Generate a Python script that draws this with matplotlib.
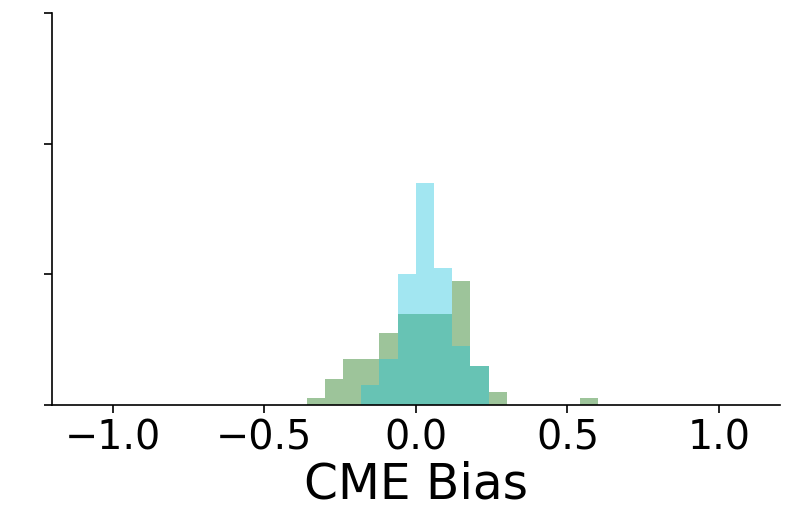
import numpy as np
import matplotlib
matplotlib.use("Agg")
import matplotlib.pyplot as plt

# Histogram bins (width 0.06) and counts
green_edges = np.round(np.arange(-0.36, 0.6001, 0.06), 2)
green_counts = [1, 4, 7, 7, 11, 14, 14, 14, 19, 6, 2, 0, 0, 0, 0, 1]

cyan_edges = np.round(np.arange(-0.18, 0.2401, 0.06), 2)
cyan_counts = [3, 7, 20, 34, 21, 9, 6]

xticks = [-1.0, -0.5, 0.0, 0.5, 1.0]

fig = plt.figure(figsize=(7.94, 5.27), dpi=100)
ax = fig.add_axes([0.0655, 0.2315, 0.9165, 0.7435])

ax.hist(green_edges[:-1], bins=green_edges, weights=green_counts,
        color="#9dc49a")
ax.hist(cyan_edges[:-1], bins=cyan_edges, weights=cyan_counts,
        color="#17c2dc", alpha=0.4)

ax.set_xlim(-1.2, 1.2)
ax.set_ylim(0, 60)
ax.set_xticks(xticks)
ax.set_yticks([0, 20, 40, 60])
ax.set_yticklabels([])
ax.tick_params(axis="x", labelsize=28.5, length=6, width=1.2)
ax.tick_params(axis="y", length=6, width=1.2)
ax.set_xlabel("CME Bias", fontsize=35, labelpad=2)

for side in ["top", "right"]:
    ax.spines[side].set_visible(False)
for side in ["left", "bottom"]:
    ax.spines[side].set_linewidth(1.2)

fig.savefig("out.png", dpi=100)
